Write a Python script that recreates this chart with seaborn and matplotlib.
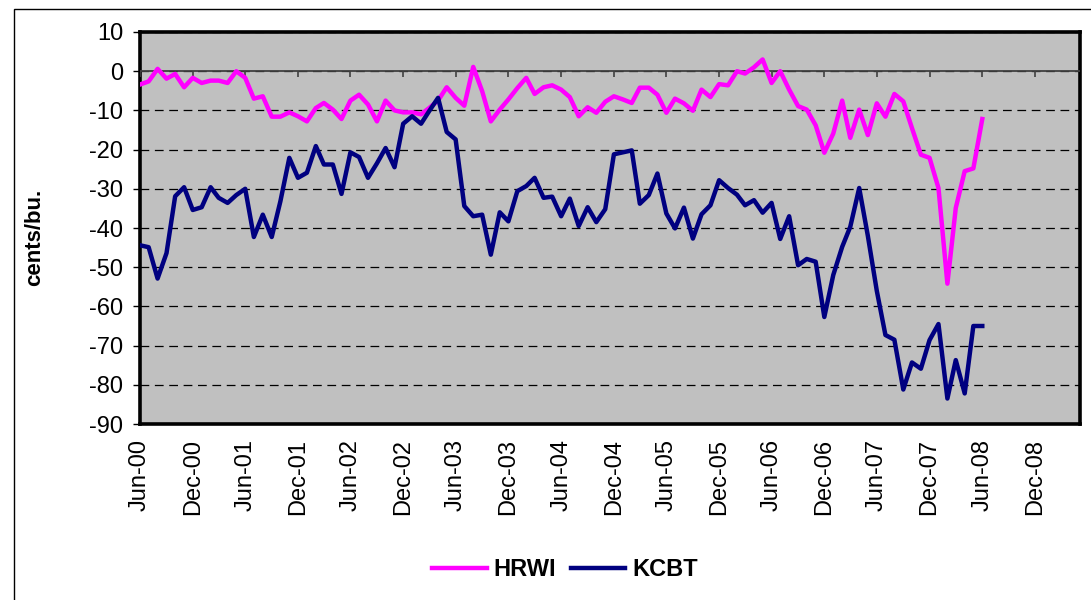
import pandas as pd
import matplotlib.pyplot as plt
import matplotlib.dates as mdates
from matplotlib.patches import Rectangle
import seaborn as sns

# monthly basis values, Jun-00 .. Jun-08 (cents/bu.)
months = pd.date_range("2000-06-01", periods=97, freq="MS")

hrwi = [-3.4, -2.6, 0.6, -1.9, -0.7, -4.1, -1.7, -3.0, -2.4, -2.4,
        -3.0, 0.0, -1.7, -7.0, -6.4, -11.6, -11.6, -10.5, -11.5, -12.8,
        -9.4, -8.1, -9.8, -12.2, -7.5, -6.0, -8.5, -12.8, -7.5, -10.0,
        -10.5, -10.5, -11.0, -9.4, -7.5, -4.1, -6.8, -8.8, 1.1, -5.1,
        -12.8, -9.8, -7.2, -4.3, -1.7, -5.8, -4.1, -3.6, -4.7, -6.6,
        -11.5, -9.2, -10.6, -7.8, -6.4, -7.2, -8.1, -4.2, -4.2, -6.0,
        -10.6, -7.0, -8.2, -10.1, -4.7, -6.6, -3.3, -3.6, 0.0, -0.6,
        1.0, 3.0, -3.0, 0.0, -4.7, -8.9, -9.8, -13.8, -20.8, -15.9,
        -7.5, -17.0, -9.8, -16.3, -8.2, -11.6, -5.8, -7.7, -14.5, -21.3,
        -22.1, -29.8, -54.2, -34.9, -25.5, -24.8, -12.2]

kcbt = [-44.4, -44.9, -52.9, -46.4, -31.9, -29.6, -35.4, -34.7, -29.6, -32.3,
        -33.6, -31.6, -30.0, -42.3, -36.6, -42.3, -33.2, -22.1, -27.2, -25.9,
        -19.1, -23.8, -23.8, -31.3, -20.7, -21.9, -27.2, -23.5, -19.6, -24.5,
        -13.4, -11.5, -13.4, -10.2, -6.8, -15.5, -17.4, -34.4, -37.0, -36.6,
        -46.8, -36.0, -38.3, -30.6, -29.3, -27.2, -32.3, -32.0, -37.0, -32.5,
        -39.5, -34.7, -38.5, -35.2, -21.2, -20.7, -20.2, -33.8, -31.6, -26.1,
        -36.3, -40.1, -34.8, -42.7, -36.5, -34.2, -27.8, -29.8, -31.5, -34.2,
        -32.9, -36.1, -33.6, -42.8, -37.0, -49.5, -47.9, -48.6, -62.7, -52.0,
        -44.8, -39.7, -29.8, -42.0, -56.0, -67.3, -68.5, -81.2, -74.3, -75.9,
        -68.6, -64.5, -83.5, -73.7, -82.2, -65.0, -65.0]

series_names = ["HRWI", "KCBT"]
colors = {"HRWI": "#FF00FF", "KCBT": "#000080"}
y_ticks = list(range(-90, 11, 10))
x_ticks = pd.date_range("2000-06-01", "2008-12-01", freq="6MS")

df = pd.concat([
    pd.DataFrame({"date": months, "value": hrwi, "series": "HRWI"}),
    pd.DataFrame({"date": months, "value": kcbt, "series": "KCBT"}),
])

plt.rcParams["font.family"] = ["Liberation Sans", "DejaVu Sans"]
plt.rcParams["axes.unicode_minus"] = False

fig = plt.figure(figsize=(10.91, 6.0), dpi=100)
ax = fig.add_axes([140 / 1091, 1 - 424 / 600, 940 / 1091, 392 / 600])
ax.set_facecolor("#C0C0C0")

sns.lineplot(data=df, x="date", y="value", hue="series", hue_order=series_names,
             palette=colors, linewidth=3.2, ax=ax, legend=False, zorder=5)
handles = list(ax.get_lines())

ax.set_xlim(pd.Timestamp("2000-06-01"), pd.Timestamp("2009-05-06"))
ax.set_ylim(-90, 10)
ax.set_yticks(y_ticks)
ax.set_xticks(x_ticks)
ax.xaxis.set_major_formatter(mdates.DateFormatter("%b-%y"))

ax.yaxis.grid(True, color="black", linestyle=(0, (7, 4.5)), linewidth=0.9)
ax.set_axisbelow(True)
ax.axhline(0, color="#404040", linewidth=1.3, zorder=3)
# category axis crosses at zero: small tick marks hanging from the zero line
ax.vlines(x_ticks, -1.4, 0, colors="#404040", linewidth=1.2, zorder=3)

for side in ["left", "right", "top", "bottom"]:
    ax.spines[side].set_color("black")
    ax.spines[side].set_linewidth(2.6)

ax.tick_params(axis="y", direction="out", length=5, width=1, pad=7, labelsize=17)
ax.tick_params(axis="x", length=0, pad=11, labelsize=17, labelrotation=90)

ax.set_xlabel("")
ax.set_ylabel("cents/bu.", fontsize=16, fontweight="bold")
ax.yaxis.set_label_coords(-0.101, 0.477)

fig.legend(handles, series_names, loc="center", bbox_to_anchor=(565 / 1091, 30 / 600),
           ncol=2, frameon=False, handlelength=2.3, handletextpad=0.3,
           columnspacing=0.6, prop={"size": 17, "weight": "bold"})

# outer chart frame
fig.patches.append(Rectangle((14 / 1091, -0.05), 1.2, 1 - 9 / 600 + 0.05,
                             transform=fig.transFigure, fill=False,
                             edgecolor="black", linewidth=1))

fig.savefig("out.png", dpi=100, facecolor="white")
